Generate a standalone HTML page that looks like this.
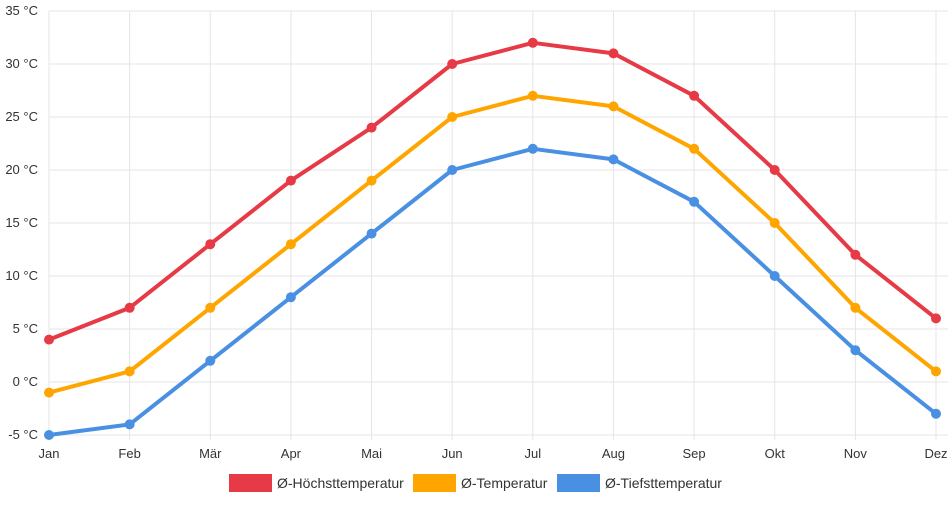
<!DOCTYPE html>
<html><head><meta charset="utf-8"><style>
body{margin:0;background:#fff;font-family:"Liberation Sans",sans-serif}
svg text{font-family:"Liberation Sans",sans-serif;font-size:13px;fill:#333}
svg text.leg{font-size:14px}
</style></head><body>
<svg id="c" width="952" height="500" xmlns="http://www.w3.org/2000/svg"></svg>
<script>
const months=["Jan","Feb","Mär","Apr","Mai","Jun","Jul","Aug","Sep","Okt","Nov","Dez"];
const highTemps=[4,7,13,19,24,30,32,31,27,20,12,6];
const meanTemps=[-1,1,7,13,19,25,27,26,22,15,7,1];
const lowTemps=[-5,-4,2,8,14,20,22,21,17,10,3,-3];
const yTicks=[-5,0,5,10,15,20,25,30,35];
const seriesNames=["Ø-Höchsttemperatur","Ø-Temperatur","Ø-Tiefsttemperatur"];
const colors=["#e63a46","#ffa500","#4a90e2"];
const svg=document.getElementById('c');const NS="http://www.w3.org/2000/svg";
const x0=49,x1=936,yTop=11,yBot=435,vMin=-5,vMax=35;
const xs=i=>x0+i*(x1-x0)/(months.length-1);
const ys=v=>yBot-(v-vMin)/(vMax-vMin)*(yBot-yTop);
function mk(t,a,p){const e=document.createElementNS(NS,t);for(const k in a)e.setAttribute(k,a[k]);(p||svg).appendChild(e);return e;}
yTicks.forEach(v=>{const l=mk('line',{x1:x0,x2:x1+12,y1:ys(v),y2:ys(v),stroke:'#e5e5e5'});


const t=mk('text',{x:38,y:ys(v)+4,'text-anchor':'end'});t.textContent=v+' °C';

});
months.forEach((m,i)=>{const l=mk('line',{x1:xs(i),x2:xs(i),y1:yTop,y2:yBot+5,stroke:'#e5e5e5'});


const t=mk('text',{x:xs(i),y:458,'text-anchor':'middle'});t.textContent=m;

});
[highTemps,meanTemps,lowTemps].forEach((d,s)=>{
const g=mk('g',{});


const p=mk('polyline',{points:d.map((v,i)=>xs(i)+','+ys(v)).join(' '),fill:'none',stroke:colors[s],'stroke-width':4,'stroke-linejoin':'round'},g);


d.forEach((v,i)=>{const c=mk('circle',{cx:xs(i),cy:ys(v),r:5,fill:colors[s]},g);

});});
const lx=[229,413,557];
seriesNames.forEach((n,s)=>{const g=mk('g',{});


mk('rect',{x:lx[s],y:474,width:43,height:18,fill:colors[s]},g);
const t=mk('text',{x:lx[s]+48,y:488,'class':'leg'},g);t.textContent=n;});
</script></body></html>
